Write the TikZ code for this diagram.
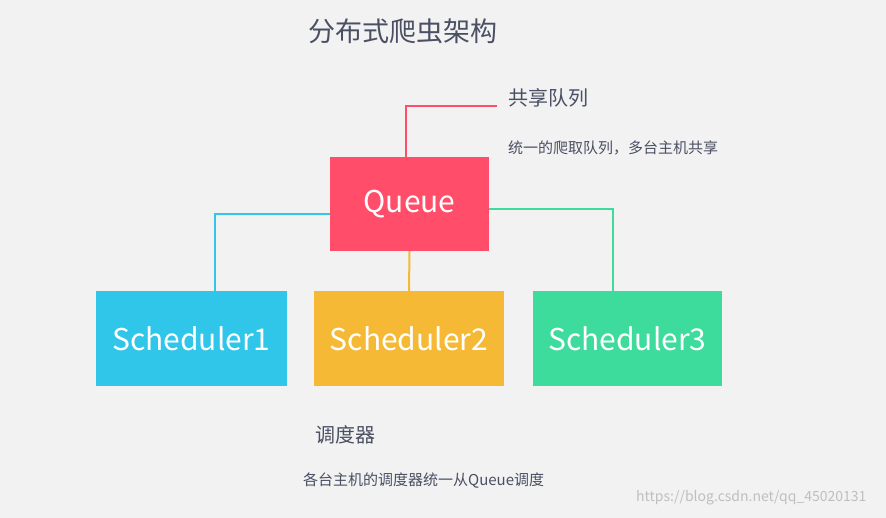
\documentclass[tikz,border=0pt]{standalone}
\usepackage{fontspec}
\setmainfont{Noto Sans CJK SC}
\begin{document}
\begin{tikzpicture}[x=1pt,y=-1pt,
  box/.style={draw=none,inner sep=0pt,text=white,font=\fontsize{30}{32}\selectfont,minimum height=95pt},
  lbl/.style={anchor=west,inner sep=0pt,text=txt},
  con/.style={line width=2pt}]
\definecolor{bg}{HTML}{F2F2F2}
\definecolor{txt}{HTML}{4A4F63}
\definecolor{qred}{HTML}{FF4D6A}
\definecolor{sblue}{HTML}{2FC6EA}
\definecolor{syel}{HTML}{F5B935}
\definecolor{sgreen}{HTML}{3DDC9C}
\fill[bg] (0,0) rectangle (886,518);
\useasboundingbox (0,0) rectangle (886,518);
\node[text=txt,font=\fontsize{27}{30}\selectfont] (title) at (403,31) {分布式爬虫架构};
\node[box,fill=qred,minimum width=159pt,minimum height=94pt] (q) at (409.5,204) {Queue};
\node[box,fill=sblue,minimum width=191pt] (s1) at (191.5,338.5) {Scheduler1};
\node[box,fill=syel,minimum width=190pt] (s2) at (409,338.5) {Scheduler2};
\node[box,fill=sgreen,minimum width=189pt] (s3) at (627.5,338.5) {Scheduler3};
\coordinate (qe) at (497,106);
\draw[con,qred] (q.north -| 406,0) |- (qe);
\draw[con,sblue] (q.west |- 0,214) -| (s1.north -| 215,0);
\draw[con,syel] (q.south) -- (s2.north);
\draw[con,sgreen] (q.east |- 0,209) -| (s3.north -| 613,0);
\node[lbl,font=\fontsize{20}{22}\selectfont] (l1) at (508,98) {共享队列};
\node[lbl,font=\fontsize{15}{17}\selectfont] (l2) at (508,148) {统一的爬取队列，多台主机共享};
\node[lbl,font=\fontsize{20}{22}\selectfont] (l3) at (315,435) {调度器};
\node[lbl,font=\fontsize{15}{17}\selectfont] (l4) at (303,481) {各台主机的调度器统一从Queue调度};
\node[lbl,text=black!25,font=\fontsize{14}{16}\selectfont] (wm) at (636,498) {https://blog.csdn.net/qq\_45020131};
\end{tikzpicture}
\end{document}
